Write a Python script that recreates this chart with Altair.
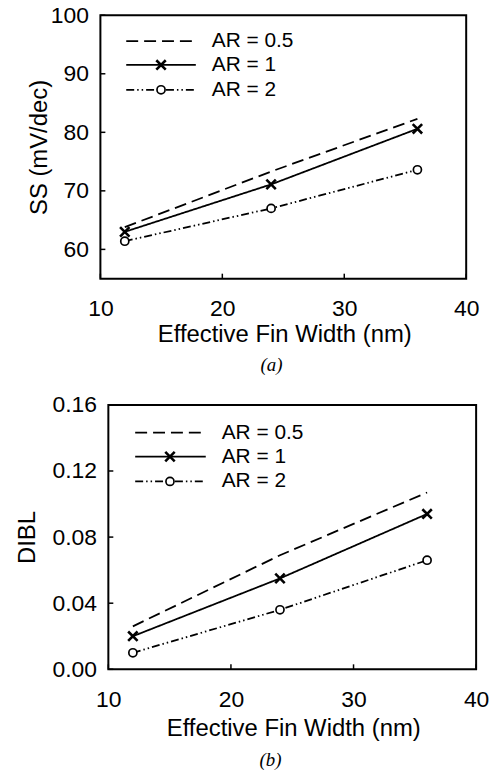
import altair as alt
import pandas as pd

series = ["AR = 0.5", "AR = 1", "AR = 2"]
width_nm = [12, 24, 36]
ss_ar05 = [63.8, 73.3, 82.3]
ss_ar1 = [63.0, 71.1, 80.6]
ss_ar2 = [61.4, 67.0, 73.6]
dibl_ar05 = [0.026, 0.069, 0.107]
dibl_ar1 = [0.020, 0.055, 0.094]
dibl_ar2 = [0.010, 0.036, 0.066]

x_ticks = [10, 20, 30, 40]
ss_ticks = [60, 70, 80, 90, 100]
dibl_ticks = [0.00, 0.04, 0.08, 0.12, 0.16]

DASHES = [[12, 6], [1, 0], [8, 3, 1.5, 3, 1.5, 3]]
XPATH = "M-1,-1L1,1M-1,1L1,-1"
FONT = "Liberation Sans"
LW = 1.8


def make_df(vals):
    rows = []
    for s, v in zip(series, vals):
        for w, y in zip(width_nm, v):
            rows.append({"s": s, "w": w, "v": y})
    return pd.DataFrame(rows)


def panel(df, ydomain, yticks, yfmt, ytitle, title_x, W, H, caption, cap_dx,
          leg, sh, xlab_pad, xtitle_y, cap_offset):
    # sh: left shift of the frame inside the cell
    xscale = alt.Scale(domain=[10, 40], nice=False, zero=False, range=[sh, W])
    yscale = alt.Scale(domain=ydomain, nice=False, zero=False)
    x = alt.X("w:Q", scale=xscale, axis=alt.Axis(
        values=x_ticks, ticks=False, tickSize=0, domain=False, grid=False,
        labelPadding=xlab_pad, labelBaseline="middle", labelFlush=False,
        title="Effective Fin Width (nm)", titleX=(sh + W) / 2 + 1, titleY=xtitle_y,
        titleBaseline="middle", titleAnchor="middle"))
    y = alt.Y("v:Q", scale=yscale, axis=alt.Axis(
        values=yticks, format=yfmt, ticks=False, tickSize=0, domain=False, grid=False,
        labelPadding=12, labelFlush=False, labelBaseline="middle", offset=-sh,
        title=ytitle, titleX=title_x, titleAngle=-90, titleBaseline="middle"))

    frame = alt.Chart(pd.DataFrame({"s": ["frame"]})).mark_rect(
        fill=None, stroke="black", strokeWidth=2).encode(
        x=alt.value(sh), x2=alt.value(W), y=alt.value(0), y2=alt.value(H))

    base = alt.Chart(df)
    lines = base.mark_line(color="black", strokeWidth=LW).encode(
        x=x, y=y,
        strokeDash=alt.StrokeDash("s:N", scale=alt.Scale(domain=series, range=DASHES), legend=None),
        detail="s:N")
    crosses = base.transform_filter(alt.datum.s == series[1]).mark_point(
        shape=XPATH, size=90, filled=False, stroke="black", strokeWidth=2.6, opacity=1
    ).encode(x=x, y=y)
    circles = base.transform_filter(alt.datum.s == series[2]).mark_point(
        shape="circle", size=66, filled=True, fill="white", stroke="black", strokeWidth=1.7, opacity=1
    ).encode(x=x, y=y)

    xt = alt.Chart(pd.DataFrame({"w": x_ticks})).mark_rule(color="black", strokeWidth=1.5).encode(
        x=x, y=alt.value(H), y2=alt.value(H - 5))
    yt = alt.Chart(pd.DataFrame({"v": yticks})).mark_rule(color="black", strokeWidth=1.5).encode(
        y=y, x=alt.value(sh), x2=alt.value(sh + 5))

    lx0, lx1, lmx, ltx, lys = leg
    legend_layers = []
    for i, s in enumerate(series):
        ld = alt.Chart(pd.DataFrame({"s": [s]}))
        legend_layers.append(ld.mark_rule(color="black", strokeWidth=LW, strokeDash=DASHES[i]).encode(
            x=alt.value(sh + lx0), x2=alt.value(sh + lx1), y=alt.value(lys[i])))
        if i == 1:
            legend_layers.append(ld.mark_point(shape=XPATH, size=90, filled=False, stroke="black",
                                               strokeWidth=2.6, opacity=1).encode(
                x=alt.value(sh + lmx), y=alt.value(lys[i])))
        if i == 2:
            legend_layers.append(ld.mark_point(shape="circle", size=66, filled=True, fill="white",
                                               stroke="black", strokeWidth=1.7, opacity=1).encode(
                x=alt.value(sh + lmx), y=alt.value(lys[i])))
        legend_layers.append(ld.mark_text(align="left", baseline="middle", font=FONT, fontSize=21,
                                          color="black").encode(
            x=alt.value(sh + ltx), y=alt.value(lys[i]), text="s:N"))

    return alt.layer(frame, lines, crosses, circles, xt, yt, *legend_layers).properties(
        width=W, height=H,
        title=alt.TitleParams(caption, orient="bottom", font="Liberation Serif", fontStyle="italic",
                              fontSize=19, fontWeight="normal", color="black", anchor="start",
                              frame="group", dx=cap_dx, offset=cap_offset))


# top: frame from 101 to 469 ; bottom: frame from 109 to 479 (cell origin at 101)
top = panel(make_df([ss_ar05, ss_ar1, ss_ar2]), [55, 100], ss_ticks, "d", "SS (mV/dec)", -61,
            368, 265, "(a)", 161, (26, 96, 61, 112, [26, 50, 75]), 0, 30, 56, 10)
bottom = panel(make_df([dibl_ar05, dibl_ar1, dibl_ar2]), [0, 0.16], dibl_ticks, ".2f", "DIBL", -81,
               378, 266, "(b)", 160, (27, 98, 62, 114, [28, 52, 77]), 8, 30, 60, 10)

chart = alt.vconcat(top, bottom, spacing=19).properties(
    padding={"top": 2, "left": 16, "right": 8, "bottom": 2},
    background="white"
).configure_view(stroke=None).configure_axis(
    labelFont=FONT, labelFontSize=23, labelColor="black",
    titleFont=FONT, titleFontSize=24, titleFontWeight="normal", titleColor="black"
)

chart.save("out.html", embed_options={"renderer": "svg", "actions": False})
